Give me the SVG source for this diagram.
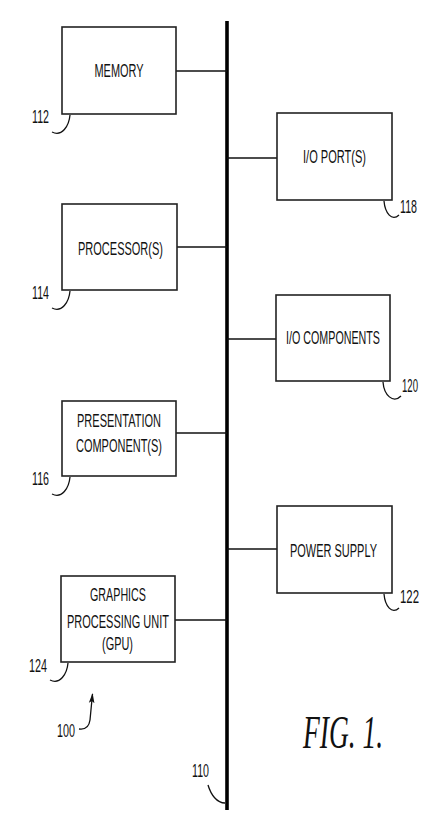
<svg xmlns="http://www.w3.org/2000/svg" width="436" height="818" viewBox="0 0 436 818">
<style>
.box{fill:#fff;stroke:#222;stroke-width:1.6}
.t{font-family:"Liberation Sans",Arial,sans-serif;font-size:18px;fill:#111;text-anchor:middle}
.lbl{font-family:"Liberation Sans",Arial,sans-serif;font-size:18px;fill:#111}
.lead{fill:none;stroke:#111;stroke-width:1.3}
.conn{stroke:#111;stroke-width:1.6}
.fig{font-family:"Liberation Serif","Times New Roman",serif;font-style:italic;font-size:46px;fill:#111}
</style>
<defs>
<marker id="ah" markerWidth="11" markerHeight="8" refX="9" refY="4" orient="auto" markerUnits="userSpaceOnUse" viewBox="0 0 11 8">
<path d="M0,1.2 L10,4 L0,6.8 L2,4 Z" fill="#111"/>
</marker>
</defs>
<rect width="436" height="818" fill="#fff"/>
<g id="connectors">
<line x1="227" y1="21" x2="227" y2="810" stroke="#000" stroke-width="3.6"/>
<line class="conn" x1="176" y1="71" x2="227" y2="71"/>
<line class="conn" x1="227" y1="158" x2="277" y2="158"/>
<line class="conn" x1="177" y1="247" x2="227" y2="247"/>
<line class="conn" x1="227" y1="339" x2="276" y2="339"/>
<line class="conn" x1="176" y1="433" x2="227" y2="433"/>
<line class="conn" x1="227" y1="549" x2="277" y2="549"/>
<line class="conn" x1="175" y1="620" x2="227" y2="620"/>
</g>
<g id="memory">
<rect class="box" x="62" y="27" width="114" height="87"/>
<text class="t" x="119" y="77" textLength="49" lengthAdjust="spacingAndGlyphs">MEMORY</text>
<text class="lbl" x="32" y="123" textLength="17" lengthAdjust="spacingAndGlyphs">112</text>
<path class="lead" d="M70,115 C69,126 62,137 52,132"/>
</g>
<g id="io-ports">
<rect class="box" x="277" y="113" width="115" height="87"/>
<text class="t" x="334.5" y="163" textLength="63" lengthAdjust="spacingAndGlyphs">I/O PORT(S)</text>
<text class="lbl" x="400" y="213" textLength="17" lengthAdjust="spacingAndGlyphs">118</text>
<path class="lead" d="M384,201 C385,213 392,222 399,215"/>
</g>
<g id="processors">
<rect class="box" x="62" y="204" width="115" height="86"/>
<text class="t" x="120.5" y="255" textLength="85" lengthAdjust="spacingAndGlyphs">PROCESSOR(S)</text>
<text class="lbl" x="32" y="299" textLength="17" lengthAdjust="spacingAndGlyphs">114</text>
<path class="lead" d="M70,291 C69,302 62,313 52,308"/>
</g>
<g id="io-components">
<rect class="box" x="276" y="295" width="114" height="86"/>
<text class="t" x="333" y="344" textLength="94" lengthAdjust="spacingAndGlyphs">I/O COMPONENTS</text>
<text class="lbl" x="402" y="392" textLength="16" lengthAdjust="spacingAndGlyphs">120</text>
<path class="lead" d="M383,382 C384,395 393,404 401,396"/>
</g>
<g id="presentation">
<rect class="box" x="62" y="401" width="114" height="75"/>
<text class="t" x="119" y="427" textLength="84" lengthAdjust="spacingAndGlyphs">PRESENTATION</text>
<text class="t" x="119" y="452" textLength="86" lengthAdjust="spacingAndGlyphs">COMPONENT(S)</text>
<text class="lbl" x="32" y="485" textLength="17" lengthAdjust="spacingAndGlyphs">116</text>
<path class="lead" d="M70,477 C69,488 62,499 52,494"/>
</g>
<g id="power-supply">
<rect class="box" x="277" y="506" width="115" height="87"/>
<text class="t" x="333.5" y="557" textLength="87" lengthAdjust="spacingAndGlyphs">POWER SUPPLY</text>
<text class="lbl" x="400" y="603" textLength="19" lengthAdjust="spacingAndGlyphs">122</text>
<path class="lead" d="M384,594 C385,606 392,615 399,608"/>
</g>
<g id="gpu">
<rect class="box" x="61" y="576" width="114" height="86"/>
<text class="t" x="118" y="601" textLength="56" lengthAdjust="spacingAndGlyphs">GRAPHICS</text>
<text class="t" x="118" y="628" textLength="102" lengthAdjust="spacingAndGlyphs">PROCESSING UNIT</text>
<text class="t" x="117.5" y="650" textLength="31" lengthAdjust="spacingAndGlyphs">(GPU)</text>
<text class="lbl" x="29" y="672" textLength="18" lengthAdjust="spacingAndGlyphs">124</text>
<path class="lead" d="M68,663 C67,674 60,685 50,680"/>
</g>
<g id="bus-label">
<text class="lbl" x="192" y="777" textLength="17" lengthAdjust="spacingAndGlyphs">110</text>
<path class="lead" d="M208,785 C211,795 217,803 225,803"/>
</g>
<g id="system-label">
<text class="lbl" x="57" y="737" textLength="18" lengthAdjust="spacingAndGlyphs">100</text>
<path class="lead" d="M79,729 C86,730 89,727 90,720 L92.5,694" marker-end="url(#ah)"/>
</g>
<text class="fig" x="303" y="748" textLength="80" lengthAdjust="spacingAndGlyphs">FIG. 1.</text>
</svg>
